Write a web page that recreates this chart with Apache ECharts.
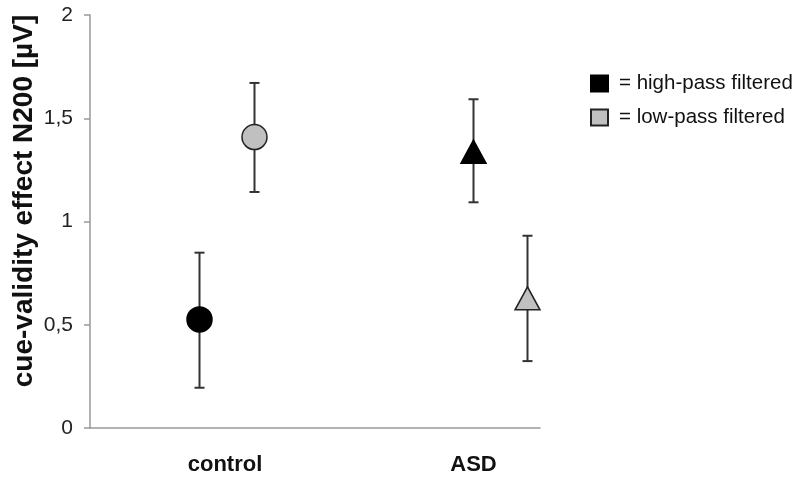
<!DOCTYPE html>
<html><head><meta charset="utf-8">
<script src="https://cdn.jsdelivr.net/npm/echarts@6/dist/echarts.min.js"></script>
<style>html,body{margin:0;padding:0;background:#fff}#c{width:800px;height:477px}</style>
</head><body><div id="c"></div>
<script>
const categories = ['control', 'ASD'];
const categoryX = [2.7, 7.67];
const groupSymbols = ['circle', 'triangle'];
const seriesNames = ['high-pass filtered', 'low-pass filtered'];
const highPassX = [2.19, 7.67];
const highPassMean = [0.526, 1.338];
const highPassLow = [0.195, 1.093];
const highPassHigh = [0.849, 1.592];
const lowPassX = [3.29, 8.75];
const lowPassMean = [1.409, 0.628];
const lowPassLow = [1.143, 0.324];
const lowPassHigh = [1.671, 0.931];
const yTicks = [0, 0.5, 1, 1.5, 2];
const yTitle = 'cue-validity effect N200 [µV]';

const chart = echarts.init(document.getElementById('c'));
const FONT = 'Liberation Sans, Arial, sans-serif';

function markerData(xs, ys) {
  return xs.map((x, i) => ({
    value: [x, ys[i]],
    symbol: groupSymbols[i],
    symbolSize: groupSymbols[i] === 'triangle' ? [25, 23] : 25
  }));
}
function errData(xs, lo, hi) {
  return xs.map((x, i) => [x, lo[i], hi[i]]);
}
function renderErr(params, api) {
  const x = api.value(0);
  const lo = api.coord([x, api.value(1)]);
  const hi = api.coord([x, api.value(2)]);
  const w = 5;
  const st = { stroke: '#333', lineWidth: 2 };
  return {
    type: 'group',
    children: [
      { type: 'line', shape: { x1: lo[0], y1: lo[1], x2: hi[0], y2: hi[1] }, style: st },
      { type: 'line', shape: { x1: lo[0] - w, y1: lo[1], x2: lo[0] + w, y2: lo[1] }, style: st },
      { type: 'line', shape: { x1: hi[0] - w, y1: hi[1], x2: hi[0] + w, y2: hi[1] }, style: st }
    ]
  };
}

chart.setOption({
  animation: false,
  backgroundColor: '#fff',
  grid: { left: 90, right: 260, top: 15, bottom: 49, containLabel: false },
  legend: {
    orient: 'vertical', left: 585, top: 68, itemWidth: 17, itemHeight: 16, itemGap: 13,
    icon: 'rect',
    data: seriesNames,
    formatter: n => '= ' + n,
    textStyle: { fontFamily: FONT, fontSize: 20.5, color: '#111', padding: [0, 0, 0, 6] }
  },
  xAxis: {
    type: 'value', min: 0, max: 9,
    splitLine: { show: false },
    axisLine: { show: true, lineStyle: { color: '#999', width: 1.5 } },
    axisTick: { show: false },
    axisLabel: {
      customValues: categoryX,
      formatter: v => { const i = categoryX.indexOf(v); return i >= 0 ? categories[i] : ''; },
      fontFamily: FONT, fontSize: 22, fontWeight: 'bold', color: '#111', margin: 26
    }
  },
  yAxis: {
    type: 'value', min: 0, max: 2, interval: 0.5,
    splitLine: { show: false },
    axisLine: { show: true, lineStyle: { color: '#999', width: 1.5 } },
    axisTick: { show: true, inside: false, length: 6, lineStyle: { color: '#999', width: 1.5 } },
    axisLabel: {
      formatter: v => String(v).replace('.', ','),
      fontFamily: FONT, fontSize: 21, color: '#222', margin: 17
    }
  },
  graphic: [{
    type: 'text', x: 24, y: 201, rotation: Math.PI / 2,
    style: { text: yTitle, font: 'bold 28px ' + FONT, fill: '#111', align: 'center', verticalAlign: 'middle' }
  }],
  series: [
    { type: 'custom', renderItem: renderErr, data: errData(highPassX, highPassLow, highPassHigh), z: 1, silent: true },
    { type: 'custom', renderItem: renderErr, data: errData(lowPassX, lowPassLow, lowPassHigh), z: 1, silent: true },
    {
      name: seriesNames[0], type: 'scatter', z: 5,
      itemStyle: { color: '#000', borderColor: '#000', borderWidth: 1.5, opacity: 1 },
      data: markerData(highPassX, highPassMean)
    },
    {
      name: seriesNames[1], type: 'scatter', z: 5,
      itemStyle: { color: '#c0c0c0', borderColor: '#222', borderWidth: 1.5, opacity: 1 },
      data: markerData(lowPassX, lowPassMean)
    }
  ]
});
</script></body></html>
